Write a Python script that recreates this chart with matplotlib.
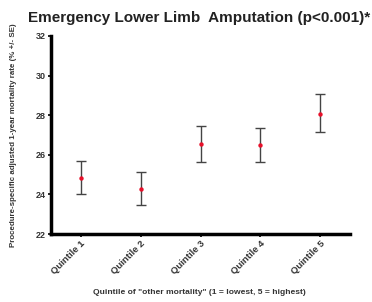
import matplotlib
matplotlib.use("Agg")
import matplotlib.pyplot as plt

categories = ["Quintile 1", "Quintile 2", "Quintile 3", "Quintile 4", "Quintile 5"]
means = [24.84, 24.29, 26.56, 26.49, 28.07]
upper = [25.67, 25.15, 27.47, 27.37, 29.06]
lower = [24.00, 23.45, 25.62, 25.62, 27.14]
yticks = [22, 24, 26, 28, 30, 32]

plt.rcParams['font.family'] = ['Liberation Sans', 'DejaVu Sans']

fig = plt.figure(figsize=(3.72, 3.02), dpi=100)
ax = fig.add_axes([0.137, 0.225, 0.804, 0.656])

x = list(range(1, len(categories) + 1))
yerr = [[m - l for m, l in zip(means, lower)], [u - m for u, m in zip(upper, means)]]
ax.errorbar(x, means, yerr=yerr, fmt='none', ecolor='#444444', elinewidth=1.0,
            capsize=3.5, capthick=1.0, zorder=2)
ax.scatter(x, means, s=10, color='#e8102a', zorder=3, linewidths=0)

ax.set_xlim(0.5, 5.5)
ax.set_ylim(22, 32)
ax.set_yticks(yticks)
ax.set_yticklabels([str(t) for t in yticks], fontsize=6.5, fontweight='bold', color='#333333')
ax.set_xticks(x)
ax.set_xticklabels(categories, rotation=45, ha='right', rotation_mode='anchor',
                   fontsize=6.8, fontweight='bold', color='#333333')
for s in ['top', 'right']:
    ax.spines[s].set_visible(False)
for s in ['left', 'bottom']:
    ax.spines[s].set_linewidth(2.5)
ax.tick_params(axis='both', length=2, width=1.2, pad=1.5)

ax.set_ylabel("Procedure-specific adjusted 1-year mortality rate (% +/- SE)",
              fontsize=5.7, fontweight='bold', color='#333333', labelpad=14)
fig.text(0.537, 1 - 292 / 302, 'Quintile of "other mortality" (1 = lowest, 5 = highest)',
         fontsize=6.1, fontweight='bold', color='#333333', ha='center', va='center')
fig.text(0.075, 0.94, "Emergency Lower Limb  Amputation (p<0.001)*", fontsize=11,
         fontweight='bold', color='#222222', ha='left', va='center')

fig.savefig("out.png", dpi=100)
